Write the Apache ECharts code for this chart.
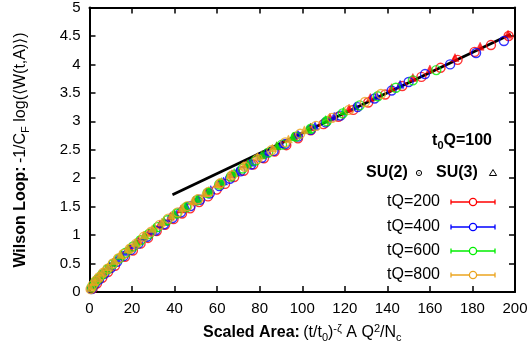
<!DOCTYPE html>
<html><head><meta charset="utf-8">
<script src="https://cdn.jsdelivr.net/npm/echarts@6/dist/echarts.min.js"></script>
<style>html,body{margin:0;padding:0;background:#fff}#c{width:531px;height:350px}</style>
</head><body><div id="c"></div>
<script>
// ---- data ----
const xTicks = [0,20,40,60,80,100,120,140,160,180,200];
const yTicks = [0,0.5,1,1.5,2,2.5,3,3.5,4,4.5,5];

const fitX = [39, 198];
const fitY = [1.71, 4.53];

const su2_200_x = [1.5,3.5,6,8.7,12,16.7,20.4,24,27.5,31.6,35.5,39.5,43.5,47.3,51.5,55.7,59.8,63.7,68,72.5,77,82,87,92.5,98,104,110,117,124,131,139,147,156,165,173,181,188.7,197];
const su2_200_y = [0.06,0.15,0.25,0.35,0.46,0.62,0.73,0.85,0.95,1.07,1.18,1.28,1.38,1.47,1.58,1.68,1.80,1.90,2.02,2.13,2.24,2.35,2.47,2.58,2.70,2.84,2.95,3.08,3.20,3.33,3.47,3.62,3.78,3.94,4.08,4.22,4.34,4.50];

const su3_200_x = [2,5,8,11,15,19,23,28,33,38,43,49,55,61,67,74,81,88,96,104,113,122,132,142,152,160,171.8,183.6,196.7];
const su3_200_y = [0.17,0.30,0.41,0.52,0.65,0.78,0.91,1.05,1.19,1.33,1.46,1.61,1.76,1.92,2.08,2.25,2.41,2.57,2.74,2.90,3.07,3.23,3.42,3.59,3.77,3.92,4.12,4.32,4.53];

const su2_400_x = [1,2.5,4.5,7,10,13,16,19.5,23,27,31,35,39,43,47.5,52,56.5,61,66,71,76,81,86.5,92,98,104,111,118,126,134,142,150,157.7,169.5,181.7,194.8];
const su2_400_y = [0.05,0.14,0.22,0.32,0.42,0.53,0.63,0.74,0.85,0.97,1.08,1.19,1.30,1.40,1.51,1.62,1.73,1.86,1.99,2.12,2.24,2.36,2.48,2.60,2.73,2.85,2.98,3.10,3.25,3.40,3.54,3.69,3.83,4.00,4.20,4.41];

const su3_400_x = [1.5,4,6.5,9.5,13,17,21,25.5,30,35,40,45.5,51,57,63,69.5,76,83,90,98,106,115,125,135,146];
const su3_400_y = [0.13,0.25,0.35,0.46,0.58,0.71,0.83,0.98,1.10,1.24,1.37,1.51,1.64,1.80,1.95,2.13,2.28,2.44,2.60,2.77,2.92,3.09,3.27,3.45,3.65];

const su2_600_x = [1,2.5,4,6,8.5,11,14,17,20.5,24,28,32,36.5,41,45.5,50.5,55.5,61,66.5,72,78,84,90.5,97,104,111.5,119,127,135.5,144,152,163];
const su2_600_y = [0.08,0.17,0.23,0.31,0.40,0.49,0.59,0.69,0.80,0.91,1.02,1.14,1.26,1.38,1.49,1.61,1.74,1.89,2.03,2.17,2.31,2.45,2.59,2.73,2.87,3.00,3.14,3.28,3.44,3.59,3.72,3.90];

const su3_600_x = [1,3,5.5,8,11,14.5,18,22,26,30.5,35,40,45,50.5,56,62,68,74.5,81,88,95.5,103,111,119.5];
const su3_600_y = [0.11,0.22,0.32,0.41,0.52,0.64,0.75,0.87,1.00,1.13,1.25,1.38,1.51,1.64,1.78,1.94,2.10,2.26,2.41,2.57,2.73,2.86,3.03,3.18];

const su2_800_x = [0.5,1.5,3,4.5,6.5,8.5,11,13.5,16,19,22,25.5,29,33,37,41.5,46,51,56,61.5,67,73,79,85.5,92,99,106.5,114,122,129.5,137];
const su2_800_y = [0.05,0.12,0.20,0.26,0.34,0.41,0.50,0.59,0.67,0.76,0.85,0.97,1.06,1.18,1.29,1.40,1.51,1.63,1.76,1.91,2.05,2.20,2.34,2.49,2.63,2.78,2.92,3.06,3.20,3.34,3.48];

const su3_800_x = [0.5,2,4,6,8.5,11.5,14.5,18,21.5,25.5,29.5,34,38.5,43.5,48.5,54,60,66,72.5,79,86,93.5,101];
const su3_800_y = [0.08,0.18,0.27,0.35,0.44,0.55,0.66,0.76,0.87,1.00,1.11,1.23,1.35,1.48,1.60,1.74,1.90,2.06,2.22,2.38,2.53,2.69,2.85];

const tQLabels = ['tQ=200','tQ=400','tQ=600','tQ=800'];
const colors = ['#ff0000','#0000ff','#00ee00','#eba51f'];

// ---- chart ----
const zip = (xs, ys) => xs.map((x, i) => [x, ys[i]]);
const FONT = 'Liberation Sans, Arial, sans-serif';
const G = {left: 89.5, right: 16, top: 6, bottom: 58};

function circ(name, xs, ys, c, z) {
  return {type:'scatter', name, data: zip(xs, ys), symbol:'circle', symbolSize: 9,
    itemStyle:{color:'rgba(0,0,0,0)', borderColor:c, borderWidth:1.4}, z, silent:true, animation:false};
}
function tri(name, xs, ys, c, z) {
  return {type:'scatter', name, data: zip(xs, ys), symbol:'triangle', symbolSize: 8,
    itemStyle:{color:c, borderColor:c, borderWidth:0.5}, z, silent:true, animation:false};
}

const axisCommon = {
  axisLine:{show:true, onZero:false, lineStyle:{color:'#000', width:2}},
  axisTick:{show:true, inside:true, length:6, lineStyle:{color:'#000', width:1.5}},
  splitLine:{show:false}
};

const chart = echarts.init(document.getElementById('c'), null, {renderer:'canvas'});

const legendRows = [];
const rowY = [202, 227, 251, 275];
tQLabels.forEach((lab, i) => {
  const y = rowY[i], c = colors[i];
  legendRows.push(
    {type:'text', x:440, y:y, style:{text:lab, font:'16px '+FONT, fill:'#000', align:'right', verticalAlign:'middle'}},
    {type:'line', shape:{x1:451, y1:y, x2:495, y2:y}, style:{stroke:c, lineWidth:1.3}},
    {type:'line', shape:{x1:451, y1:y-2.5, x2:451, y2:y+2.5}, style:{stroke:c, lineWidth:1.3}},
    {type:'line', shape:{x1:495, y1:y-2.5, x2:495, y2:y+2.5}, style:{stroke:c, lineWidth:1.3}},
    {type:'circle', shape:{cx:473, cy:y, r:3.6}, style:{fill:'#fff', stroke:c, lineWidth:1.3}}
  );
});

chart.setOption({
  animation:false,
  backgroundColor:'#fff',
  grid: G,
  xAxis: [
    Object.assign({type:'value', min:0, max:200, interval:20, position:'bottom',
      axisLabel:{show:true, margin:9, fontSize:15, color:'#000', fontFamily:FONT},
      name:'{b|Scaled Area:} {n|(t/t}{sub|0}{n|)}{sup|-ζ}{n| A Q}{sup|2}{n|/N}{sub|c}',
      nameLocation:'middle', nameGap:31,
      nameTextStyle:{rich:{
        b:{fontSize:16, fontWeight:'bold', fontFamily:FONT, color:'#000', lineHeight:20, verticalAlign:'middle'},
        n:{fontSize:16, fontFamily:FONT, color:'#000', lineHeight:20, verticalAlign:'middle'},
        sup:{fontSize:11, fontFamily:FONT, color:'#000', lineHeight:20, verticalAlign:'top'},
        sub:{fontSize:11, fontFamily:FONT, color:'#000', lineHeight:20, verticalAlign:'bottom'}
      }}
    }, axisCommon),
    Object.assign({type:'value', min:0, max:200, interval:20, position:'top', axisLabel:{show:false}}, axisCommon)
  ],
  yAxis: [
    Object.assign({type:'value', min:0, max:5, interval:0.5, position:'left',
      axisLabel:{show:true, margin:9, fontSize:15, color:'#000', fontFamily:FONT}}, axisCommon),
    Object.assign({type:'value', min:0, max:5, interval:0.5, position:'right', axisLabel:{show:false}}, axisCommon)
  ],
  series: [
    {type:'line', name:'fit', data: zip(fitX, fitY), symbol:'none', lineStyle:{color:'#000', width:2.8}, z:1, silent:true, animation:false},
    circ('SU(2) tQ=200', su2_200_x, su2_200_y, colors[0], 2),
    tri('SU(3) tQ=200', su3_200_x, su3_200_y, colors[0], 3),
    circ('SU(2) tQ=400', su2_400_x, su2_400_y, colors[1], 4),
    tri('SU(3) tQ=400', su3_400_x, su3_400_y, colors[1], 5),
    circ('SU(2) tQ=600', su2_600_x, su2_600_y, colors[2], 6),
    tri('SU(3) tQ=600', su3_600_x, su3_600_y, colors[2], 7),
    circ('SU(2) tQ=800', su2_800_x, su2_800_y, colors[3], 8),
    tri('SU(3) tQ=800', su3_800_x, su3_800_y, colors[3], 9)
  ],
  graphic: [
    {type:'text', x:21, y:150, rotation:Math.PI/2,
      style:{text:'{b|Wilson Loop:} {n|-1/C}{sub|F}{n| log(⟨W(t,A)⟩)}', align:'center', verticalAlign:'middle',
        rich:{
          b:{fontSize:16, fontWeight:'bold', fontFamily:FONT, fill:'#000', lineHeight:20, verticalAlign:'middle'},
          n:{fontSize:16, fontFamily:FONT, fill:'#000', lineHeight:20, verticalAlign:'middle'},
          sub:{fontSize:11, fontFamily:FONT, fill:'#000', lineHeight:20, verticalAlign:'bottom'}
        }}},
    {type:'text', x:492, y:141,
      style:{text:'{b|t}{s|0}{b|Q=100}', align:'right', verticalAlign:'middle',
        rich:{
          b:{fontSize:16, fontWeight:'bold', fontFamily:FONT, fill:'#000', lineHeight:20, verticalAlign:'middle'},
          s:{fontSize:11, fontWeight:'bold', fontFamily:FONT, fill:'#000', lineHeight:20, verticalAlign:'bottom'}
        }}},
    {type:'text', x:366, y:173, style:{text:'SU(2)', font:'bold 16px '+FONT, fill:'#000', align:'left', verticalAlign:'middle'}},
    {type:'circle', shape:{cx:419, cy:173, r:2.6}, style:{fill:'#fff', stroke:'#000', lineWidth:1}},
    {type:'circle', shape:{cx:419, cy:173, r:0.6}, style:{fill:'#000'}},
    {type:'text', x:436, y:173, style:{text:'SU(3)', font:'bold 16px '+FONT, fill:'#000', align:'left', verticalAlign:'middle'}},
    {type:'polygon', shape:{points:[[493,169.5],[496.6,175.5],[489.4,175.5]]}, style:{fill:'#fff', stroke:'#000', lineWidth:1}}
  ].concat(legendRows)
});
</script>
</body></html>
